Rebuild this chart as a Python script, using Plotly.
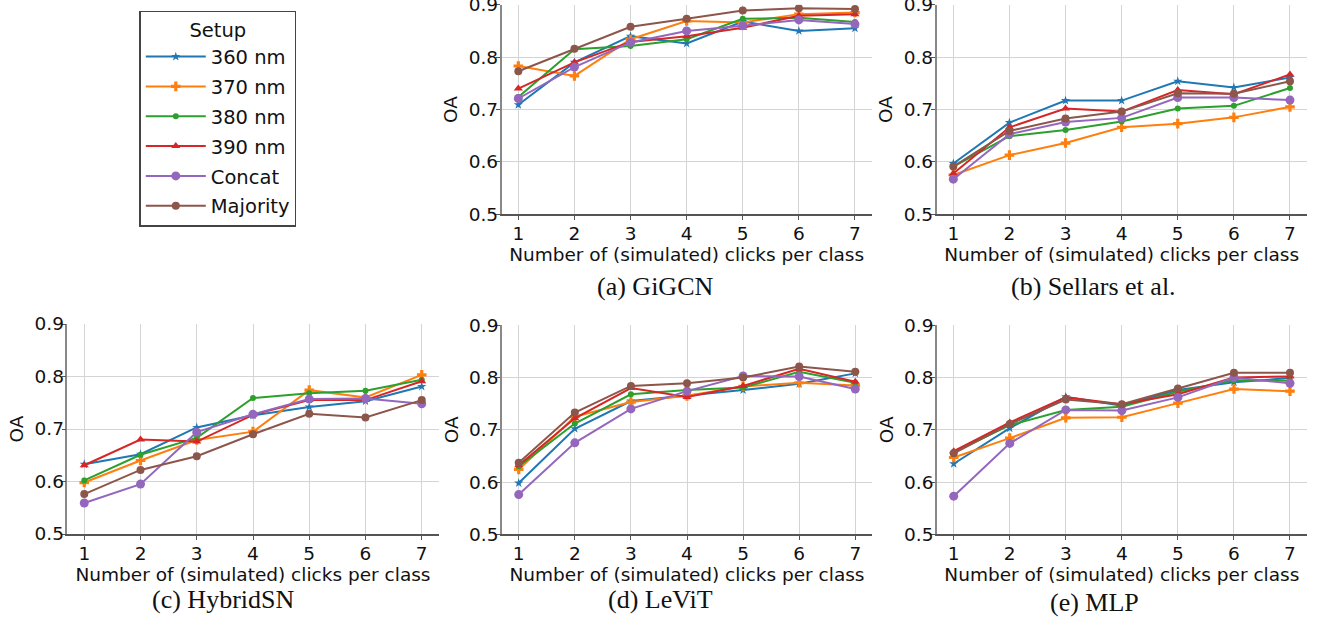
import plotly.graph_objects as go

clicks = [1, 2, 3, 4, 5, 6, 7]
setups = ["360 nm", "370 nm", "380 nm", "390 nm", "Concat", "Majority"]
colors = ["#1f77b4", "#ff7f0e", "#2ca02c", "#d62728", "#9467bd", "#8c564b"]
symbols = ["star", "cross", "circle", "triangle-up", "circle", "circle"]
msizes = [7, 8, 6, 8, 9, 8]

panel_titles = ["(a) GiGCN", "(b) Sellars et al.", "(c) HybridSN", "(d) LeViT", "(e) MLP"]

# OA values, one row per setup (360, 370, 380, 390, Concat, Majority)
gigcn = [
    [0.709, 0.790, 0.840, 0.826, 0.868, 0.850, 0.855],
    [0.783, 0.764, 0.834, 0.869, 0.866, 0.882, 0.885],
    [0.724, 0.815, 0.821, 0.834, 0.873, 0.875, 0.867],
    [0.740, 0.790, 0.829, 0.840, 0.856, 0.879, 0.882],
    [0.721, 0.781, 0.828, 0.850, 0.860, 0.871, 0.863],
    [0.773, 0.816, 0.858, 0.873, 0.889, 0.893, 0.892],
]
sellars = [
    [0.597, 0.675, 0.717, 0.717, 0.754, 0.742, 0.761],
    [0.575, 0.613, 0.636, 0.666, 0.673, 0.685, 0.705],
    [0.591, 0.649, 0.661, 0.677, 0.702, 0.707, 0.741],
    [0.578, 0.666, 0.702, 0.696, 0.737, 0.729, 0.767],
    [0.567, 0.653, 0.676, 0.684, 0.723, 0.723, 0.718],
    [0.591, 0.659, 0.683, 0.696, 0.731, 0.730, 0.754],
]
hybridsn = [
    [0.633, 0.652, 0.703, 0.726, 0.742, 0.753, 0.781],
    [0.598, 0.640, 0.679, 0.695, 0.774, 0.760, 0.803],
    [0.602, 0.651, 0.683, 0.759, 0.768, 0.773, 0.794],
    [0.631, 0.680, 0.676, 0.727, 0.755, 0.755, 0.791],
    [0.559, 0.595, 0.694, 0.728, 0.757, 0.758, 0.748],
    [0.576, 0.622, 0.648, 0.690, 0.729, 0.722, 0.755],
]
levit = [
    [0.598, 0.702, 0.755, 0.765, 0.776, 0.788, 0.808],
    [0.624, 0.725, 0.753, 0.765, 0.783, 0.790, 0.785],
    [0.630, 0.712, 0.768, 0.776, 0.781, 0.811, 0.790],
    [0.632, 0.722, 0.780, 0.763, 0.784, 0.817, 0.792],
    [0.576, 0.675, 0.740, 0.774, 0.803, 0.802, 0.778],
    [0.637, 0.733, 0.784, 0.789, 0.800, 0.821, 0.811],
]
mlp = [
    [0.635, 0.703, 0.763, 0.746, 0.776, 0.791, 0.799],
    [0.647, 0.684, 0.723, 0.724, 0.751, 0.778, 0.774],
    [0.657, 0.709, 0.738, 0.744, 0.773, 0.795, 0.794],
    [0.659, 0.714, 0.762, 0.749, 0.768, 0.800, 0.802],
    [0.573, 0.674, 0.738, 0.737, 0.762, 0.800, 0.789],
    [0.655, 0.711, 0.758, 0.749, 0.779, 0.809, 0.809],
]
panels = [gigcn, sellars, hybridsn, levit, mlp]

W, H = 1320, 623
# axis boxes in pixels: (left, right, top, bottom)
boxes = [
    (501.5, 871.8, 4.7, 214.3),
    (936.5, 1306.8, 4.7, 214.3),
    (67.4, 438.6, 324.0, 534.0),
    (501.9, 872.1, 325.3, 534.3),
    (936.9, 1306.8, 325.3, 534.3),
]
caption_pos = [(655, 286), (1093, 286), (223, 599), (660, 599), (1094, 602)]

fig = go.Figure()
tick_font = dict(family="DejaVu Sans", size=18.5, color="#111")

for p, (data, box) in enumerate(zip(panels, boxes)):
    ax = "" if p == 0 else str(p + 1)
    for s, name in enumerate(setups):
        fig.add_trace(go.Scatter(
            x=clicks, y=data[s], name=name, mode="lines+markers",
            legendgroup=name, showlegend=(p == 0),
            line=dict(color=colors[s], width=2),
            marker=dict(symbol=symbols[s], size=msizes[s], color=colors[s]),
            xaxis="x" + ax, yaxis="y" + ax,
        ))
    l, r, t, b = box
    fig.update_layout(**{
        "xaxis" + ax: dict(
            domain=[l / W, r / W], anchor="y" + ax, range=[0.7, 7.3],
            tickvals=clicks, ticks="outside", ticklen=4, tickcolor="#555",
            showline=True, linecolor="#555", linewidth=1.5,
            showgrid=True, gridcolor="#d4d4d4", gridwidth=1.3, zeroline=False,
            tickfont=tick_font, automargin=False, ticklabelstandoff=-2,
            title=dict(text="Number of (simulated) clicks per class", font=tick_font, standoff=2),
        ),
        "yaxis" + ax: dict(
            domain=[1 - b / H, 1 - t / H], anchor="x" + ax, range=[0.5, 0.9],
            tickvals=[0.5, 0.6, 0.7, 0.8, 0.9], ticktext=["0.5", "0.6", "0.7", "0.8", "0.9"],
            ticks="outside", ticklen=4, tickcolor="#555",
            showline=True, linecolor="#888", linewidth=1.5,
            showgrid=True, gridcolor="#d4d4d4", gridwidth=1.3, zeroline=False,
            tickfont=tick_font, automargin=False, ticklabeloverflow="allow",
            ticklabelstandoff=-6,
            title=dict(text="OA", font=tick_font, standoff=6),
        ),
    })
    cx, cy = caption_pos[p]
    fig.add_annotation(text=panel_titles[p], x=cx / W, y=1 - cy / H, xref="paper", yref="paper",
                       showarrow=False, xanchor="center", yanchor="middle",
                       font=dict(family="Liberation Serif", size=26, color="#111"))

fig.update_layout(
    width=W, height=H, margin=dict(l=0, r=0, t=0, b=0, autoexpand=False),
    paper_bgcolor="white", plot_bgcolor="white",
    legend=dict(
        x=139.3 / W, y=1 - 10.5 / H, xanchor="left", yanchor="top",
        bordercolor="#444", borderwidth=1.5, bgcolor="white",
        font=dict(family="DejaVu Sans", size=19.5, color="#111"),
        title=dict(text="Setup", side="top center", font=dict(family="DejaVu Sans", size=19.5, color="#111")),
        tracegroupgap=1.5, itemwidth=60, entrywidth=147, entrywidthmode="pixels",
    ),
)

fig.write_html("out.html", config={"displayModeBar": False},
               post_script="document.body.style.margin='0';document.body.style.overflow='hidden';")
